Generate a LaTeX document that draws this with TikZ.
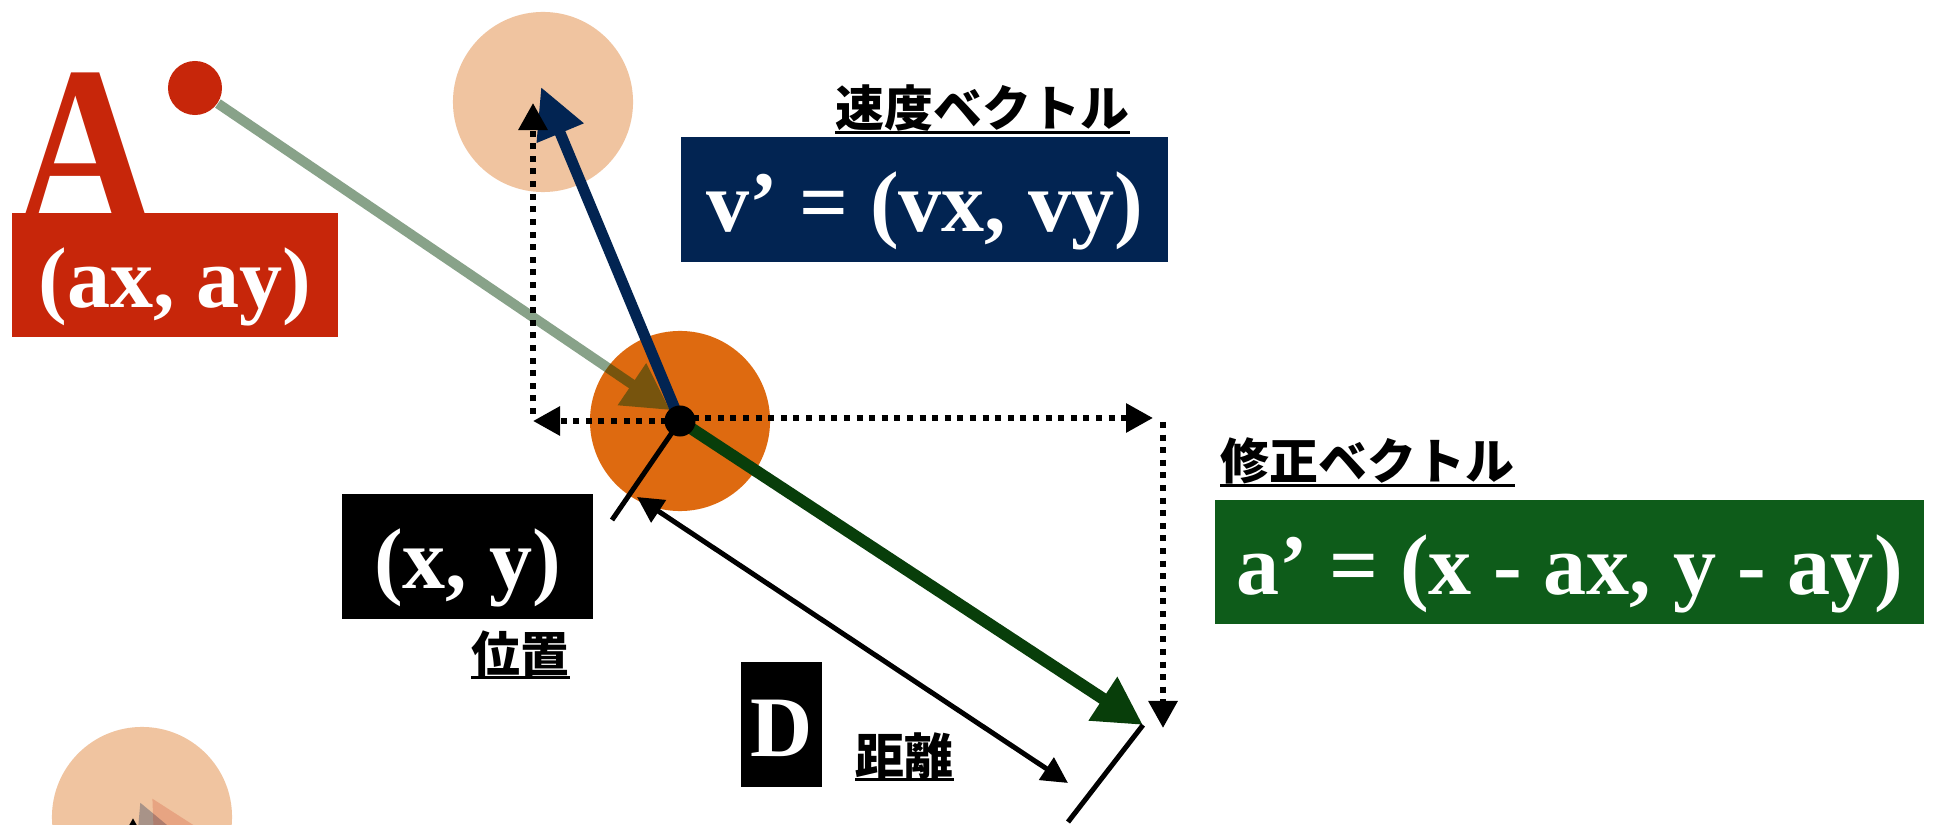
\documentclass[tikz,border=0pt]{standalone}
\usepackage{fontspec}
\usepackage{graphicx}
\usetikzlibrary{arrows.meta}
\setmainfont{Liberation Serif}
\newfontfamily\jpfont{Noto Sans CJK JP}
\definecolor{ared}{HTML}{C7260A}
\definecolor{navy}{HTML}{022452}
\definecolor{gbox}{HTML}{0E5C1A}
\definecolor{garrow}{HTML}{083E0A}
\definecolor{orangec}{HTML}{DE6A10}
\definecolor{peach}{HTML}{F0C4A0}
\newcommand\bigtxt{\fontsize{24.5pt}{24.5pt}\selectfont\bfseries}
\newcommand\jptxt{\jpfont\bfseries\fontsize{13.9pt}{14pt}\selectfont}
\tikzset{
  valbox/.style={fill=#1, text=white, inner sep=0pt, font=\bigtxt,
    text height=0.82cm, text depth=0.18cm, minimum height=1.24cm},
  jlab/.style={font=\jptxt, inner sep=0pt, anchor=base west},
  uline/.style={line width=0.03cm},
  ball/.style={circle, fill=#1, inner sep=0pt, minimum size=1.8cm},
  ghost/.style={draw=garrow, line width=0.10cm,
    -{Triangle[length=0.46cm, width=0.48cm]}},
  navyarrow/.style={draw=navy, line width=0.11cm, -{Triangle[length=0.50cm, width=0.48cm]}},
  greenarrow/.style={draw=garrow, line width=0.12cm, -{Triangle[length=0.48cm, width=0.49cm]}},
  dots/.style={line width=0.06cm, dash pattern=on 0.06cm off 0.066cm,
    -{Triangle[length=0.27cm, width=0.28cm]}},
  dline/.style={line width=0.05cm, {Triangle[length=0.26cm, width=0.26cm]}-{Triangle[length=0.26cm, width=0.26cm]}},
  tickline/.style={line width=0.05cm}
}
\begin{document}
\begin{tikzpicture}[x=0.01cm, y=-0.01cm]
\useasboundingbox[fill=white] (0,0) rectangle (1937,825);
\clip (0,0) rectangle (1937,825);

% key points
\coordinate (c) at (680,421);
\coordinate (vtip) at (541,87);
\coordinate (gtip) at (1143,725);
\coordinate (ghead) at (670,410);
\coordinate (vxtip) at (533,421);
\coordinate (vybase) at (533,414);
\coordinate (vytip) at (533,103);
\coordinate (hxtip) at (1153,418);
\coordinate (hybase) at (1163,422);
\coordinate (hytip) at (1163,728);
\coordinate (dA) at (637,497);
\coordinate (dB) at (1068,783);
\coordinate (tick1) at (612,520);
\coordinate (tick2) at (1068,822);

% circles
\node[ball=peach] (ptop) at (543,102) {};
\node[ball=peach] (pbot) at (142,817) {};
\node[ball=orangec] (porange) at (c) {};

% faded arrows inside the lower circle
\coordinate (b1tip) at (140,802);
\coordinate (b1start) at (279,1136);
\coordinate (b2tip) at (152,798);
\coordinate (b2start) at (330,1110);
\coordinate (b3tip) at (133,818);
\coordinate (b3start) at (133,900);
\begin{scope}[transparency group, opacity=0.3]
\draw[navyarrow] (b1start) -- (b1tip);
\end{scope}
\begin{scope}[transparency group, opacity=0.2]
\draw[draw=ared, line width=0.11cm, -{Triangle[length=0.50cm, width=0.48cm]}] (b2start) -- (b2tip);
\end{scope}
\draw[dots] (b3start) -- (b3tip);

% point A
\node[font=\fontsize{66.6pt}{66pt}\selectfont\bfseries, text=ared, inner sep=0pt, anchor=base]
  (Aletter) at (85,228) {\scalebox{0.85}[1]{A}};
\node[circle, fill=ared, inner sep=0pt, minimum size=0.54cm] (adot) at (195,88) {};

% vectors
\begin{scope}[transparency group, opacity=0.48]
\draw[ghost] (adot) -- (ghead);
\end{scope}
\draw[navyarrow] (c) -- (vtip);
\draw[greenarrow] (c) -- (gtip);

% dotted components
\draw[dots] (c) -- (vxtip);
\draw[dots] (vybase) -- (vytip);
\draw[dots] (c |- hxtip) -- (hxtip);
\draw[dots] (hybase) -- (hytip);

% position dot
\node[circle, fill=black, inner sep=0pt, minimum size=0.31cm] (pos) at (c) {};

% distance
\draw[tickline] (pos.center) -- (tick1);
\draw[tickline] (gtip) -- (tick2);
\draw[dline] (dA) -- (dB);

% boxes
\node[valbox=ared, minimum width=3.26cm] (abox) at (175,275) {(ax, ay)};
\node[valbox=navy, minimum width=4.87cm] (vbox) at (924.5,199.5) {v’ = (vx, vy)};
\node[valbox=black, minimum width=2.51cm] (xybox) at (467.5,556.5) {(x, y)};
\node[valbox=black, minimum width=0.81cm] (dbox) at (781.5,724.5) {D};
\node[valbox=gbox, minimum width=7.09cm] (cbox) at (1569.5,562) {a’ = (x - ax, y - ay)};

% Japanese labels
\node[jlab] (lv) at (835,127) {速度ベクトル};
\node[jlab] (lpos) at (471,672) {位置};
\node[jlab] (ldist) at (855,774) {距離};
\node[jlab] (lcorr) at (1220,480) {修正ベクトル};
\foreach \n in {lv,lpos,ldist,lcorr}{
  \draw[uline] ([yshift=-0.055cm]\n.base west) -- ([yshift=-0.055cm]\n.base east);
}
\end{tikzpicture}
\end{document}
